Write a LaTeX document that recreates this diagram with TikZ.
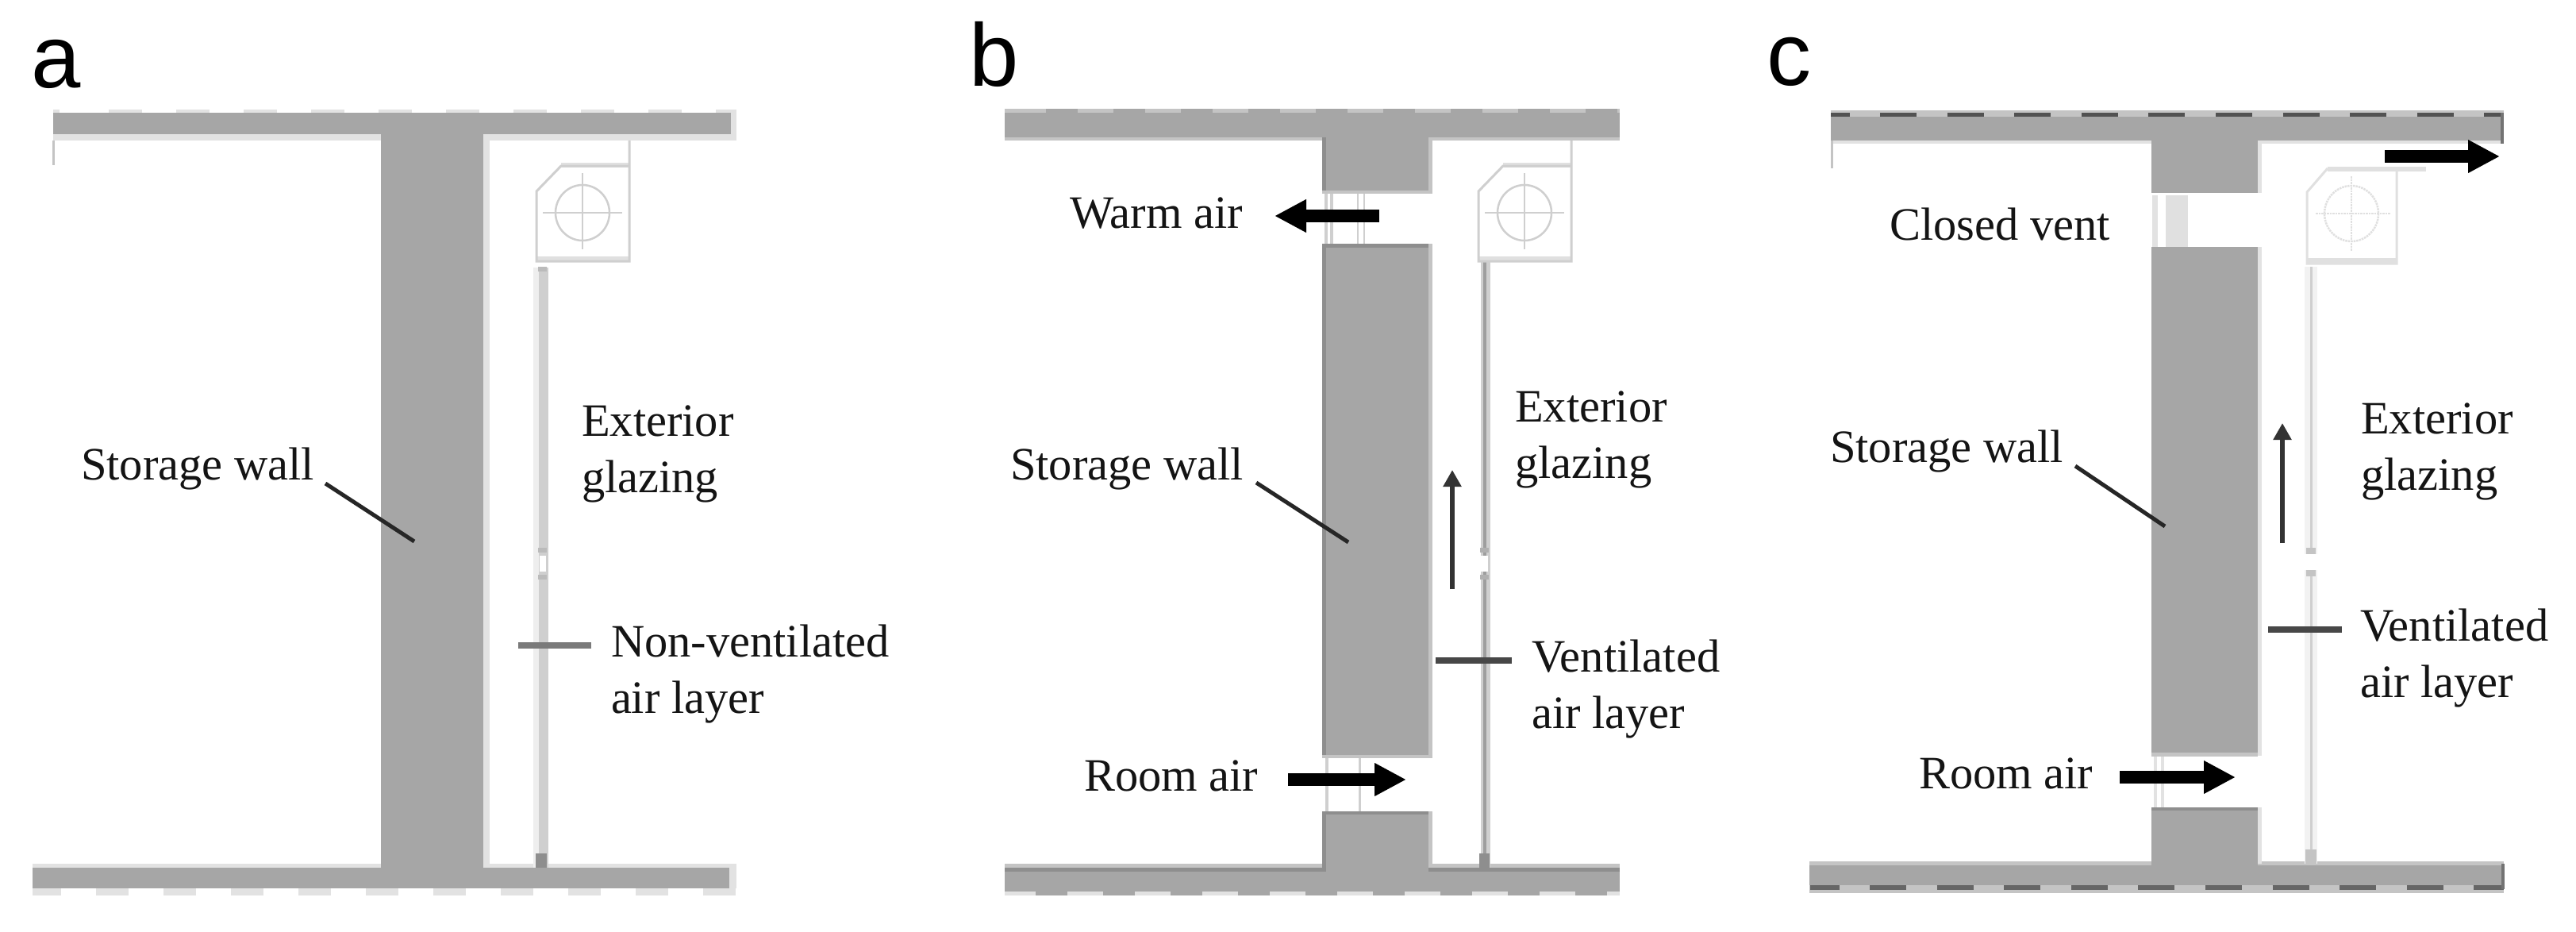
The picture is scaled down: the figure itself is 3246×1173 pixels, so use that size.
\documentclass[tikz,border=0pt]{standalone}
\usepackage{fontspec}
\setmainfont{Liberation Serif}
\newfontfamily\panelfont{Liberation Sans}
\usetikzlibrary{arrows.meta}
\definecolor{wallgray}{HTML}{A6A6A6}
\definecolor{halo}{HTML}{E2E2E2}
\definecolor{midhalo}{HTML}{C4C4C4}
\definecolor{darkedge}{HTML}{8E8E8E}
\definecolor{unitline}{HTML}{CFCFCF}
\definecolor{unitpale}{HTML}{E0E0E0}
\definecolor{textink}{HTML}{141414}
\tikzset{
  x=1pt,y=-1pt,
  wallfill/.style={fill=wallgray,draw=none},
  halofill/.style={fill=halo,draw=none},
  midfill/.style={fill=midhalo,draw=none},
  edgefill/.style={fill=darkedge,draw=none},
  lbl/.style={font=\fontsize{58.5}{71}\selectfont,text=textink,inner sep=0pt,outer sep=0pt,anchor=base west,align=left},
  panellbl/.style={font=\panelfont\fontsize{112}{114}\selectfont,text=black,inner sep=0pt,outer sep=0pt,anchor=base west},
  leader/.style={draw=black!85,line width=5pt},
  airleader/.style={draw=black!72,line width=7.5pt},
  paleleader/.style={draw=black!52,line width=8pt},
  bigarrow/.style={draw=black,line width=16pt,-{Triangle[length=40pt,width=39pt]}},
  thinarrow/.style={draw=black!80,line width=6.5pt,-{Triangle[length=21pt,width=22pt]}},
  unitstroke/.style={draw=unitline,line width=3pt},
  crosshair/.style={draw=unitline,line width=2.5pt},
}
% unit casing drawn from its left edge 0 (a and b panels)
\newcommand{\casing}{%
  \fill[unitpale] (31,205) rectangle (117,211);
  \fill[unitpale] (0,323) rectangle (117,329);
  \draw[unitstroke] (117,177) -- (117,329) -- (0,329) -- (0,241) -- (31,209) -- (117,209);
  \draw[crosshair] (58,268) ellipse [x radius=34,y radius=35];
  \draw[crosshair] (8,268) -- (108,268);
  \draw[crosshair] (58,218) -- (58,314);
}
\begin{document}
\begin{tikzpicture}
\fill[white] (0,0) rectangle (3246,1173);
\useasboundingbox (0,0) rectangle (3246,1173);

% ------------------------------ panel a
\fill[halofill] (67,142) rectangle (928,177);
\fill[halofill] (67,138) rectangle (75,142);
\draw[halo,line width=5pt,dash pattern=on 42pt off 43pt] (137,140) -- (928,140);
\fill[halofill] (41,1088) rectangle (928,1119);
\fill[halofill] (41,1119) rectangle (77,1128);
\draw[halo,line width=9pt,dash pattern=on 41pt off 44pt] (121,1123.5) -- (928,1123.5);
\fill[halofill] (609,169) rectangle (617,1093);
\fill[wallfill] (67,142) rectangle (921,169);
\fill[wallfill] (41,1093) rectangle (919,1119);
\fill[wallfill] (480,142) rectangle (609,1119);
\fill[midhalo] (66,177) rectangle (69,208);
% glazing a
\fill[halo!60] (672,337) rectangle (679,1093);
\fill[unitline] (679,337) rectangle (691,1093);
\fill[white] (680,700) rectangle (688,720);
\fill[darkedge!60] (678,690) rectangle (689,696);
\fill[darkedge!60] (678,724) rectangle (689,730);
\fill[darkedge] (675,1075) rectangle (689,1093);
\fill[darkedge!60] (678,336) rectangle (689,342);
\begin{scope}[shift={(676,0)}]\casing\end{scope}
\node[panellbl] (pa) at (39,110) {a};
\node[lbl] (swa) at (102,604) {Storage wall};
\node[lbl] (exa) at (733,620) {Exterior\\glazing};
\node[lbl] (nva) at (770,898) {Non-ventilated\\air layer};
\coordinate (swa1) at (410,609);
\coordinate (swa2) at (522,682);
\draw[leader] (swa1) -- (swa2);
\coordinate (nva1) at (653,813);
\coordinate (nva2) at (745,813);
\draw[paleleader] (nva1) -- (nva2);

% ------------------------------ panel b
\fill[midfill] (1266,137) rectangle (2041,177);
\draw[wallgray,line width=5pt,dash pattern=on 40pt off 45pt] (1318,139.5) -- (2041,139.5);
\fill[midfill] (1266,1088) rectangle (2041,1097);
\fill[halo] (1266,1123) rectangle (2041,1128);
\draw[wallgray,line width=5pt,dash pattern=on 40pt off 45pt] (1305,1125.5) -- (2041,1125.5);
\fill[edgefill] (1266,1093) rectangle (2041,1098);
\fill[wallfill] (1266,142) rectangle (2041,173);
\fill[wallfill] (1266,1098) rectangle (2041,1123);
\fill[midfill] (1800,173) rectangle (1805,244);
\fill[midfill] (1800,307) rectangle (1805,955);
\fill[midfill] (1800,1022) rectangle (1805,1093);
\fill[wallfill] (1668,142) rectangle (1800,240);
\fill[wallfill] (1668,307) rectangle (1800,955);
\fill[wallfill] (1668,1022) rectangle (1800,1123);
\fill[edgefill] (1666,173) rectangle (1671,240);
\fill[edgefill] (1666,307) rectangle (1671,955);
\fill[edgefill] (1666,1022) rectangle (1671,1098);
\fill[midfill] (1666,240) rectangle (1800,244);
\fill[midfill] (1666,951) rectangle (1800,955);
\fill[edgefill] (1666,307) rectangle (1800,312);
\fill[edgefill] (1666,1022) rectangle (1800,1026);
\draw[unitline,line width=4pt] (1671,244) -- (1671,307);
\draw[unitline,line width=4pt] (1678,244) -- (1678,307);
\draw[unitline,line width=2.5pt] (1711,244) -- (1711,307);
\draw[unitline,line width=2.5pt] (1719,244) -- (1719,307);
\draw[unitline,line width=4pt] (1672,955) -- (1672,1022);
\draw[unitline,line width=3pt] (1713,955) -- (1713,1022);
% glazing b
\fill[unitline] (1866,330) rectangle (1878,1093);
\fill[black!38] (1869,330) rectangle (1873,1093);
\fill[white] (1866,700) rectangle (1875,720);
\fill[darkedge!70] (1865,690) rectangle (1876,696);
\fill[darkedge!70] (1865,724) rectangle (1876,730);
\fill[darkedge] (1864,1075) rectangle (1877,1093);
\begin{scope}[shift={(1863,0)}]\casing\end{scope}
\node[panellbl] (pb) at (1221,108) {b};
\node[lbl] (wab) at (1348,287) {Warm air};
\node[lbl] (swb) at (1273,604) {Storage wall};
\node[lbl] (exb) at (1909,602) {Exterior\\glazing};
\node[lbl] (vab) at (1930,917) {Ventilated\\air layer};
\node[lbl] (rab) at (1366,996) {Room air};
\coordinate (wab1) at (1738,272);
\coordinate (wab2) at (1606,272);
\draw[bigarrow] (wab1) -- (wab2);
\coordinate (rab1) at (1623,982);
\coordinate (rab2) at (1772,982);
\draw[bigarrow] (rab1) -- (rab2);
\coordinate (upb1) at (1830,742);
\coordinate (upb2) at (1830,592);
\draw[thinarrow] (upb1) -- (upb2);
\coordinate (swb1) at (1583,608);
\coordinate (swb2) at (1699,683);
\draw[leader] (swb1) -- (swb2);
\coordinate (vab1) at (1809,832);
\coordinate (vab2) at (1905,832);
\draw[airleader] (vab1) -- (vab2);

% ------------------------------ panel c
\fill[midfill] (2307,139) rectangle (3155,150);
\fill[wallfill] (2307,147) rectangle (3153,177);
\fill[halofill] (2307,177) rectangle (2711,181);
\fill[halofill] (2845,177) rectangle (3153,181);
\draw[black!68,line width=5pt] (2307,144.5) -- (2331,144.5);
\draw[black!68,line width=5pt,dash pattern=on 46pt off 38.6pt] (2369,144.5) -- (3153,144.5);
\fill[black!55] (3151,142) rectangle (3155,181);
\fill[midfill] (2307,177) rectangle (2310,212);
\fill[midfill] (2280,1085) rectangle (3155,1090);
\fill[wallfill] (2280,1090) rectangle (3155,1115);
\fill[midfill] (2280,1115) rectangle (3155,1125);
\draw[black!60,line width=5.5pt] (2281,1118) -- (2318,1118);
\draw[black!60,line width=5.5pt,dash pattern=on 46pt off 38.6pt] (2356,1118) -- (3155,1118);
\fill[black!55] (3152,1088) rectangle (3156,1120);
\fill[halofill] (2845,177) rectangle (2850,243);
\fill[halofill] (2845,311) rectangle (2850,952);
\fill[halofill] (2845,1017) rectangle (2850,1088);
\fill[wallfill] (2711,147) rectangle (2845,243);
\fill[wallfill] (2711,311) rectangle (2845,948);
\fill[wallfill] (2711,1017) rectangle (2845,1115);
\fill[midfill] (2711,948) rectangle (2845,953);
\fill[edgefill] (2711,1017) rectangle (2845,1021);
\fill[halofill] (2712,246) rectangle (2719,311);
\fill[unitpale] (2729,246) rectangle (2757,311);
\fill[halofill] (2714,953) rectangle (2727,1017);
\fill[white] (2718,953) rectangle (2723,1017);
% glazing c
\fill[halo!45] (2904,336) rectangle (2920,1088);
\fill[unitline] (2911,336) rectangle (2914,1088);
\fill[white] (2904,698) rectangle (2920,718);
\fill[midhalo] (2906,690) rectangle (2918,698);
\fill[midhalo] (2906,718) rectangle (2918,726);
\fill[midhalo] (2905,1070) rectangle (2919,1088);
% unit c
\fill[unitpale] (2933,210) rectangle (3057,216);
\fill[unitpale] (2907,325) rectangle (3020,332);
\draw[unitpale,line width=3pt] (3020,216) -- (3020,332) -- (2907,332) -- (2907,242) -- (2933,212);
\draw[unitpale,line width=2.5pt,densely dotted] (2963,269) ellipse [x radius=34,y radius=35];
\draw[unitpale,line width=2.5pt,densely dotted] (2918,269) -- (3012,269);
\draw[unitpale,line width=2.5pt,densely dotted] (2963,222) -- (2963,316);
\node[panellbl] (pc) at (2226,107) {c};
\node[lbl] (cvc) at (2381,302) {Closed vent};
\node[lbl] (swc) at (2306,582) {Storage wall};
\node[lbl] (exc) at (2975,617) {Exterior\\glazing};
\node[lbl] (vac) at (2974,878) {Ventilated\\air layer};
\node[lbl] (rac) at (2418,993) {Room air};
\coordinate (topc1) at (3005,197);
\coordinate (topc2) at (3150,197);
\draw[bigarrow] (topc1) -- (topc2);
\coordinate (rac1) at (2671,979);
\coordinate (rac2) at (2817,979);
\draw[bigarrow] (rac1) -- (rac2);
\coordinate (upc1) at (2876,684);
\coordinate (upc2) at (2876,533);
\draw[thinarrow] (upc1) -- (upc2);
\coordinate (swc1) at (2615,587);
\coordinate (swc2) at (2728,663);
\draw[leader] (swc1) -- (swc2);
\coordinate (vac1) at (2858,793);
\coordinate (vac2) at (2951,793);
\draw[airleader] (vac1) -- (vac2);
\end{tikzpicture}
\end{document}
